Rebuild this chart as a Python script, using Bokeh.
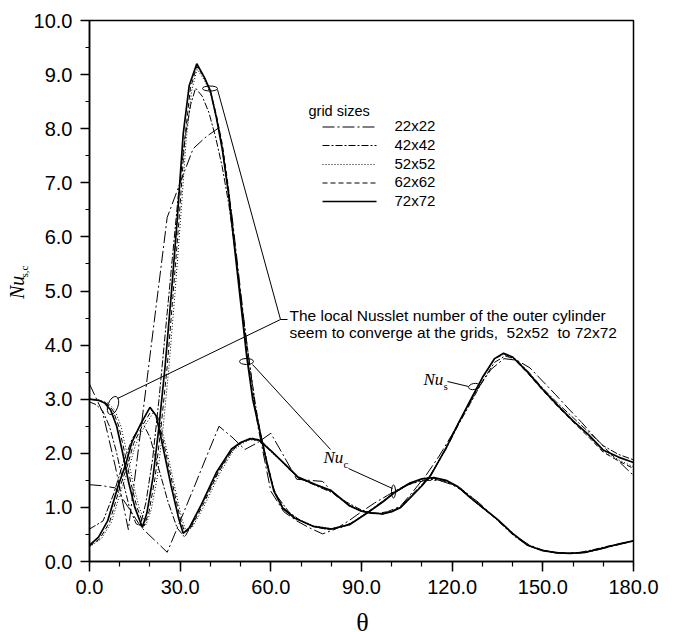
import math
from bokeh.plotting import figure
from bokeh.layouts import row, column
from bokeh.models import Range1d, FixedTicker, PrintfTickFormatter, Label
from bokeh.embed import file_html
from bokeh.resources import INLINE

# ---------------- data ----------------
x_ticks = [0, 30, 60, 90, 120, 150, 180]
x_minor = [0, 10, 20, 30, 40, 50, 60, 70, 80, 90, 100, 110, 120, 130, 140, 150, 160, 170, 180]
y_ticks = [0, 1, 2, 3, 4, 5, 6, 7, 8, 9, 10]
y_minor = [0, 0.5, 1, 1.5, 2, 2.5, 3, 3.5, 4, 4.5, 5, 5.5, 6, 6.5, 7, 7.5, 8, 8.5, 9, 9.5, 10]

grid_names = ["22x22", "42x42", "52x52", "62x62", "72x72"]

# 22x22 grid
theta_22 = [0, 4.29, 8.57, 12.86, 17.14, 21.43, 25.71, 30, 34.29, 38.57, 42.86, 47.14, 51.43, 55.71,
            60, 64.29, 68.57, 72.86, 77.14, 81.43, 85.71, 90, 94.29, 98.57, 102.86, 107.14, 111.43,
            115.71, 120, 124.29, 128.57, 132.86, 137.14, 141.43, 145.71, 150, 154.29, 158.57, 162.86,
            167.14, 171.43, 175.71, 180]
nuc_22 = [3.28, 2.77, 1.75, 0.59, 2.51, 4.44, 6.36, 7.0, 7.63, 7.85, 8.02, 6.4, 4.3, 2.5, 1.3, 0.92,
          0.75, 0.62, 0.51, 0.6, 0.75, 0.92, 1.08, 1.22, 1.36, 1.45, 1.5, 1.5, 1.42, 1.28, 1.1, 0.88,
          0.66, 0.45, 0.3, 0.21, 0.17, 0.15, 0.16, 0.2, 0.26, 0.32, 0.38]
nus_22 = [1.42, 1.4, 1.36, 1.0, 0.63, 0.4, 0.17, 0.75, 1.33, 1.92, 2.5, 2.3, 2.07, 2.2, 2.37, 1.95,
          1.52, 1.5, 1.48, 1.22, 1.05, 0.93, 0.88, 0.92, 1.02, 1.3, 1.6, 1.95, 2.35, 2.78, 3.2, 3.55,
          3.75, 3.72, 3.58, 3.33, 3.08, 2.82, 2.57, 2.3, 2.05, 1.82, 1.59]

# 42x42 grid
theta_42c = [0, 2.2, 4.4, 6.6, 8.8, 11, 13.2, 15.4, 16.8, 18.7, 20.9, 23, 25.2, 27.4, 29.6, 31.8, 33.5,
             35.1, 37.3, 39.5, 41.7, 43.9, 46.1, 48.3, 50.5, 52.7, 54.9, 57.1, 59.3, 61.5, 65.9, 70.2,
             74.6, 79, 83.4, 87.8, 92.2, 96.6, 101, 105.4, 109.8, 114.1, 118.5, 122.9, 127.3, 131.7,
             136.1, 140.5, 144.9, 149.3, 153.7, 158, 162.4, 166.8, 171.2, 175.6, 180]
nuc_42 = [2.95, 2.9, 2.78, 2.5, 2.05, 1.5, 1.0, 0.7, 0.66, 1.1, 1.9, 3.0, 4.3, 5.6, 6.9, 7.9, 8.45, 8.75,
          8.6, 8.3, 7.85, 7.3, 6.6, 5.7, 4.7, 3.75, 2.9, 2.2, 1.65, 1.25, 0.92, 0.74, 0.64, 0.59, 0.63,
          0.75, 0.92, 1.1, 1.27, 1.42, 1.5, 1.52, 1.47, 1.35, 1.15, 0.93, 0.7, 0.47, 0.3, 0.21, 0.16,
          0.15, 0.17, 0.22, 0.28, 0.33, 0.38]
theta_42s = [0, 4.5, 8, 11, 14, 17.5, 20, 23, 26, 29, 31.5, 34, 38, 42, 46, 50, 54, 57, 61, 65, 69, 75,
             80, 85, 90, 93, 97, 100, 103, 106, 110, 113, 118, 122, 126, 130, 134, 137.5, 141, 145, 150,
             155, 160, 165, 170, 175, 180]
nus_42 = [0.6, 0.75, 1.25, 1.8, 2.25, 2.57, 2.3, 1.7, 1.1, 0.62, 0.45, 0.7, 1.15, 1.6, 1.98, 2.2, 2.28,
          2.22, 2.0, 1.76, 1.55, 1.4, 1.28, 1.1, 0.95, 0.9, 0.88, 0.93, 1.02, 1.2, 1.42, 1.62, 2.08,
          2.52, 2.92, 3.33, 3.68, 3.8, 3.74, 3.52, 3.2, 2.92, 2.66, 2.4, 2.14, 1.98, 1.88]

# 52x52 grid
theta_52c = [0, 3.5, 6, 8.4, 10.4, 12.4, 14.4, 16.4, 18.7, 20.4, 22.4, 24.4, 26.3, 28.2, 30.1, 32, 33.8,
             35.6, 38, 40, 42, 44, 46, 48, 50, 52, 54, 57, 59, 61, 64, 68, 74, 80, 86, 92, 97, 101, 106,
             110, 114, 118, 122, 126, 130, 135, 140, 145, 150, 155, 159, 164, 170, 175, 180]
nuc_52 = [3.0, 2.98, 2.93, 2.8, 2.5, 2.0, 1.45, 1.0, 0.68, 0.95, 1.55, 2.5, 3.6, 4.9, 6.3, 7.8, 8.7, 9.1,
          8.9, 8.65, 8.2, 7.65, 6.85, 5.85, 4.85, 3.85, 3.05, 2.28, 1.78, 1.33, 1.0, 0.81, 0.66, 0.61,
          0.69, 0.91, 1.1, 1.27, 1.44, 1.52, 1.54, 1.49, 1.37, 1.17, 0.99, 0.77, 0.51, 0.3, 0.2, 0.16,
          0.15, 0.17, 0.25, 0.32, 0.38]
theta_52s = [0, 3.9, 7.2, 10.7, 13.2, 15.2, 18.2, 21.2, 23.2, 25.2, 28.2, 30.5, 32, 34, 38, 43, 47.6, 50.4,
             53.2, 56, 60, 65, 69, 75, 80, 86, 90, 93, 97, 100, 103, 106, 110, 113, 118, 122, 126, 130,
             134, 137, 140, 145, 150, 155, 160, 165, 170, 175, 180]
nus_52 = [0.27, 0.42, 0.72, 1.36, 1.76, 2.15, 2.5, 2.76, 2.62, 2.15, 1.38, 0.8, 0.55, 0.63, 1.03, 1.62,
          2.05, 2.18, 2.25, 2.23, 2.03, 1.77, 1.55, 1.41, 1.3, 1.03, 0.93, 0.9, 0.88, 0.92, 1.0, 1.17,
          1.4, 1.6, 2.1, 2.55, 2.97, 3.39, 3.74, 3.83, 3.77, 3.49, 3.17, 2.87, 2.6, 2.33, 2.04, 1.88, 1.75]

# 62x62 grid
theta_62c = [0, 3, 5.5, 7.7, 9.7, 11.7, 13.7, 15.7, 18.1, 19.7, 21.7, 23.7, 25.7, 27.6, 29.6, 31.5, 33.4,
             35.5, 38, 40, 42, 44, 46, 48, 50, 52, 54, 57, 59, 61, 64, 68, 74, 80, 86, 92, 97, 101, 106,
             110, 114, 118, 122, 126, 130, 135, 140, 145, 150, 155, 159, 164, 170, 175, 180]
nuc_62 = [3.0, 2.98, 2.93, 2.8, 2.5, 2.0, 1.45, 1.0, 0.66, 0.92, 1.55, 2.5, 3.6, 4.9, 6.3, 7.8, 8.75, 9.15,
          8.95, 8.7, 8.25, 7.7, 6.9, 5.9, 4.9, 3.9, 3.05, 2.26, 1.78, 1.33, 1.0, 0.8, 0.65, 0.6, 0.68,
          0.9, 1.1, 1.27, 1.44, 1.52, 1.54, 1.49, 1.37, 1.17, 0.99, 0.77, 0.51, 0.3, 0.2, 0.16, 0.15,
          0.17, 0.25, 0.32, 0.38]
theta_62s = [0, 3.4, 6.6, 10.1, 12.6, 14.6, 17.6, 20.6, 22.6, 24.6, 27.6, 30, 31.5, 33.5, 37.5, 42.5, 47.3,
             50.2, 53, 56, 60, 65, 69, 75, 80, 86, 90, 93, 97, 100, 103, 106, 110, 113, 118, 122, 126,
             130, 134, 137, 140, 145, 150, 155, 160, 165, 170, 175, 180]
nus_62 = [0.28, 0.42, 0.72, 1.38, 1.78, 2.18, 2.52, 2.8, 2.66, 2.18, 1.4, 0.8, 0.54, 0.62, 1.04, 1.63,
          2.06, 2.19, 2.26, 2.24, 2.04, 1.77, 1.55, 1.41, 1.3, 1.03, 0.93, 0.9, 0.88, 0.92, 1.0, 1.17,
          1.4, 1.6, 2.1, 2.55, 2.97, 3.39, 3.74, 3.84, 3.77, 3.48, 3.16, 2.86, 2.58, 2.31, 2.02, 1.86, 1.72]

# 72x72 grid
theta_72c = [0, 3, 5, 7, 9, 11, 13, 15, 17.5, 19, 21, 23, 25, 27, 29, 31, 33, 35.5, 38, 40, 42, 44, 46, 48,
             50, 52, 54, 57, 59, 61, 64, 68, 74, 80, 86, 92, 97, 101, 106, 110, 114, 118, 122, 126, 130,
             135, 140, 145, 150, 155, 159, 164, 170, 175, 180]
nuc_72 = [3.0, 2.98, 2.93, 2.8, 2.5, 2.0, 1.45, 1.0, 0.63, 0.9, 1.55, 2.5, 3.6, 4.9, 6.3, 7.9, 8.8, 9.2,
          8.95, 8.7, 8.2, 7.6, 6.8, 5.8, 4.8, 3.8, 3.0, 2.24, 1.75, 1.3, 0.98, 0.8, 0.65, 0.6, 0.68, 0.9,
          1.1, 1.28, 1.45, 1.53, 1.55, 1.5, 1.38, 1.18, 1.0, 0.78, 0.52, 0.3, 0.2, 0.16, 0.15, 0.17,
          0.25, 0.32, 0.38]
theta_72s = [0, 3, 6, 9.5, 12, 14, 17, 20, 22, 24, 27, 29.5, 31, 33, 37, 42, 47, 50, 53, 56, 60, 65, 69,
             75, 80, 86, 90, 93, 97, 100, 103, 106, 110, 113, 118, 122, 126, 130, 134, 137, 140, 145,
             150, 155, 160, 165, 170, 175, 180]
nus_72 = [0.3, 0.45, 0.75, 1.4, 1.8, 2.2, 2.55, 2.85, 2.7, 2.2, 1.4, 0.8, 0.52, 0.62, 1.05, 1.65, 2.08,
          2.2, 2.27, 2.25, 2.05, 1.78, 1.56, 1.42, 1.31, 1.03, 0.93, 0.9, 0.88, 0.92, 1.0, 1.17, 1.4,
          1.6, 2.1, 2.55, 2.98, 3.4, 3.75, 3.85, 3.78, 3.5, 3.18, 2.88, 2.6, 2.35, 2.06, 1.93, 1.83]

series = [
    ("22x22", theta_22, nuc_22, theta_22, nus_22),
    ("42x42", theta_42c, nuc_42, theta_42s, nus_42),
    ("52x52", theta_52c, nuc_52, theta_52s, nus_52),
    ("62x62", theta_62c, nuc_62, theta_62s, nus_62),
    ("72x72", theta_72c, nuc_72, theta_72s, nus_72),
]
styles = {
    "22x22": dict(line_dash="12 3 2 3", line_width=1.0),
    "42x42": dict(line_dash="7 2 2 2", line_width=1.0),
    "52x52": dict(line_dash="1 2", line_width=1.0),
    "62x62": dict(line_dash="5 3", line_width=1.0),
    "72x72": dict(line_dash="solid", line_width=1.7),
}

# ---------------- layout geometry (canvas pixels) ----------------
W, H = 676, 632
LEFT_W = 30          # strip holding the y-axis title
BOTTOM_H = 26        # strip holding the x-axis title
FL, FR, FT, FB = 89, 633, 20, 561  # frame edges in canvas pixels
PH = H - BOTTOM_H

SANS = "Liberation Sans"
SERIF = "Liberation Serif"

p = figure(width=W - LEFT_W, height=PH, output_backend="svg", toolbar_location=None,
           x_range=Range1d(0, 180), y_range=Range1d(0, 10),
           min_border_left=FL - LEFT_W, min_border_right=W - FR, min_border_top=FT,
           min_border_bottom=PH - FB)
p.xgrid.visible = False
p.ygrid.visible = False
p.outline_line_color = "black"
p.outline_line_width = 1.5
p.outline_line_alpha = 1.0
p.background_fill_color = "white"
p.border_fill_color = "white"

p.xaxis.ticker = FixedTicker(ticks=x_ticks, minor_ticks=x_minor)
p.yaxis.ticker = FixedTicker(ticks=y_ticks, minor_ticks=y_minor)
for ax, tick_out, minor_out in ((p.xaxis, 10, 5), (p.yaxis, 9, 4)):
    ax.formatter = PrintfTickFormatter(format="%.1f")
    ax.axis_line_color = "black"
    ax.axis_line_width = 1.5
    ax.major_tick_in = 0
    ax.major_tick_out = tick_out
    ax.minor_tick_in = 0
    ax.minor_tick_out = minor_out
    ax.major_tick_line_color = "black"
    ax.minor_tick_line_color = "black"
    ax.major_tick_line_width = 1.5
    ax.minor_tick_line_width = 1.2
    ax.major_label_text_font = SANS
    ax.major_label_text_font_size = "20px"
    ax.major_label_text_color = "black"
    ax.major_label_standoff = 8

for name, tc, yc, ts, ys in series:
    st = styles[name]
    p.line(tc, yc, line_color="black", **st)
    p.line(ts, ys, line_color="black", **st)


# ---------------- annotations (canvas pixel positions -> data) ----------------
def dx(px):
    return (px - FL) * 180.0 / (FR - FL)


def dy(py):
    return (FB - py) * 10.0 / (FB - FT)


def lab(target, **kw):
    kw.setdefault("text_color", "black")
    target.add_layout(Label(**kw))


# legend
lab(p, x=dx(308), y=dy(118), text="grid sizes", text_font=SANS, text_font_size="14.5px")
leg_y = [126.5, 145, 164, 182.5, 201]
for name, ly in zip(grid_names, leg_y):
    p.line([dx(322), dx(376)], [dy(ly), dy(ly)], line_color="black", **styles[name])
    lab(p, x=dx(394), y=dy(ly + 7), text=name, text_font=SANS, text_font_size="15px")

# ellipses marking curves
ell_x = [dx(112.5), dx(209.5), dx(246), dx(393), dx(473.5)]
ell_y = [dy(405), dy(88), dy(361), dy(491), dy(386)]
ell_w = [10, 15, 14, 4, 11]
ell_h = [19, 5, 6, 13, 6]
ell_a = [-0.35, 0.0, 0.0, 0.0, 0.2]
p.ellipse(x=ell_x, y=ell_y, width=ell_w, height=ell_h, angle=ell_a,
          width_units="screen", height_units="screen",
          fill_color=None, line_color="black", line_width=1.0)

# leader lines
leaders = [
    [(117, 398), (280, 319)],
    [(217, 89), (280, 319)],
    [(280, 319), (287, 319)],
    [(252, 364), (330, 449)],
    [(348, 468), (392, 488)],
    [(447, 381), (468, 386)],
]
for seg in leaders:
    p.line([dx(a) for a, b in seg], [dy(b) for a, b in seg], line_color="black", line_width=1.0)

# annotation text
lab(p, x=dx(289), y=dy(323), text="The local Nusslet number of the outer cylinder",
    text_font=SANS, text_font_size="15.5px")
lab(p, x=dx(289), y=dy(340), text="seem to converge at the grids, \u00a052x52 \u00a0to 72x72",
    text_font=SANS, text_font_size="15.5px")

# Nu_s and Nu_c labels
lab(p, x=dx(423), y=dy(388), text="Nu", text_font=SERIF, text_font_style="italic", text_font_size="17px")
lab(p, x=dx(443), y=dy(391), text="s", text_font=SERIF, text_font_size="11px")
lab(p, x=dx(323), y=dy(466), text="Nu", text_font=SERIF, text_font_style="italic", text_font_size="17px")
lab(p, x=dx(343), y=dy(469), text="c", text_font=SERIF, text_font_size="11px")


# ---------------- title strips ----------------
def strip(w, h):
    f = figure(width=w, height=h, output_backend="svg", toolbar_location=None,
               x_range=Range1d(0, w), y_range=Range1d(0, h),
               x_axis_type=None, y_axis_type=None,
               min_border_left=0, min_border_right=0, min_border_top=0, min_border_bottom=0)
    f.outline_line_color = None
    f.background_fill_color = "white"
    f.border_fill_color = "white"
    return f


left = strip(LEFT_W, PH)
left.add_layout(Label(x=27, y=PH - 312, text="Nu", text_font=SERIF, text_font_style="italic",
                      text_font_size="20px", text_color="black", angle=math.pi / 2))
left.add_layout(Label(x=29, y=PH - 288, text="s,c", text_font=SERIF,
                      text_font_size="11px", text_color="black", angle=math.pi / 2))

bottom = strip(W, BOTTOM_H)
lab(bottom, x=362, y=10, text="θ", text_font=SERIF, text_baseline="alphabetic",
    text_align="center", text_font_size="26px")

layout = column(row(left, p, spacing=0), bottom, spacing=0)

open("out.html", "w").write(file_html(layout, INLINE))
